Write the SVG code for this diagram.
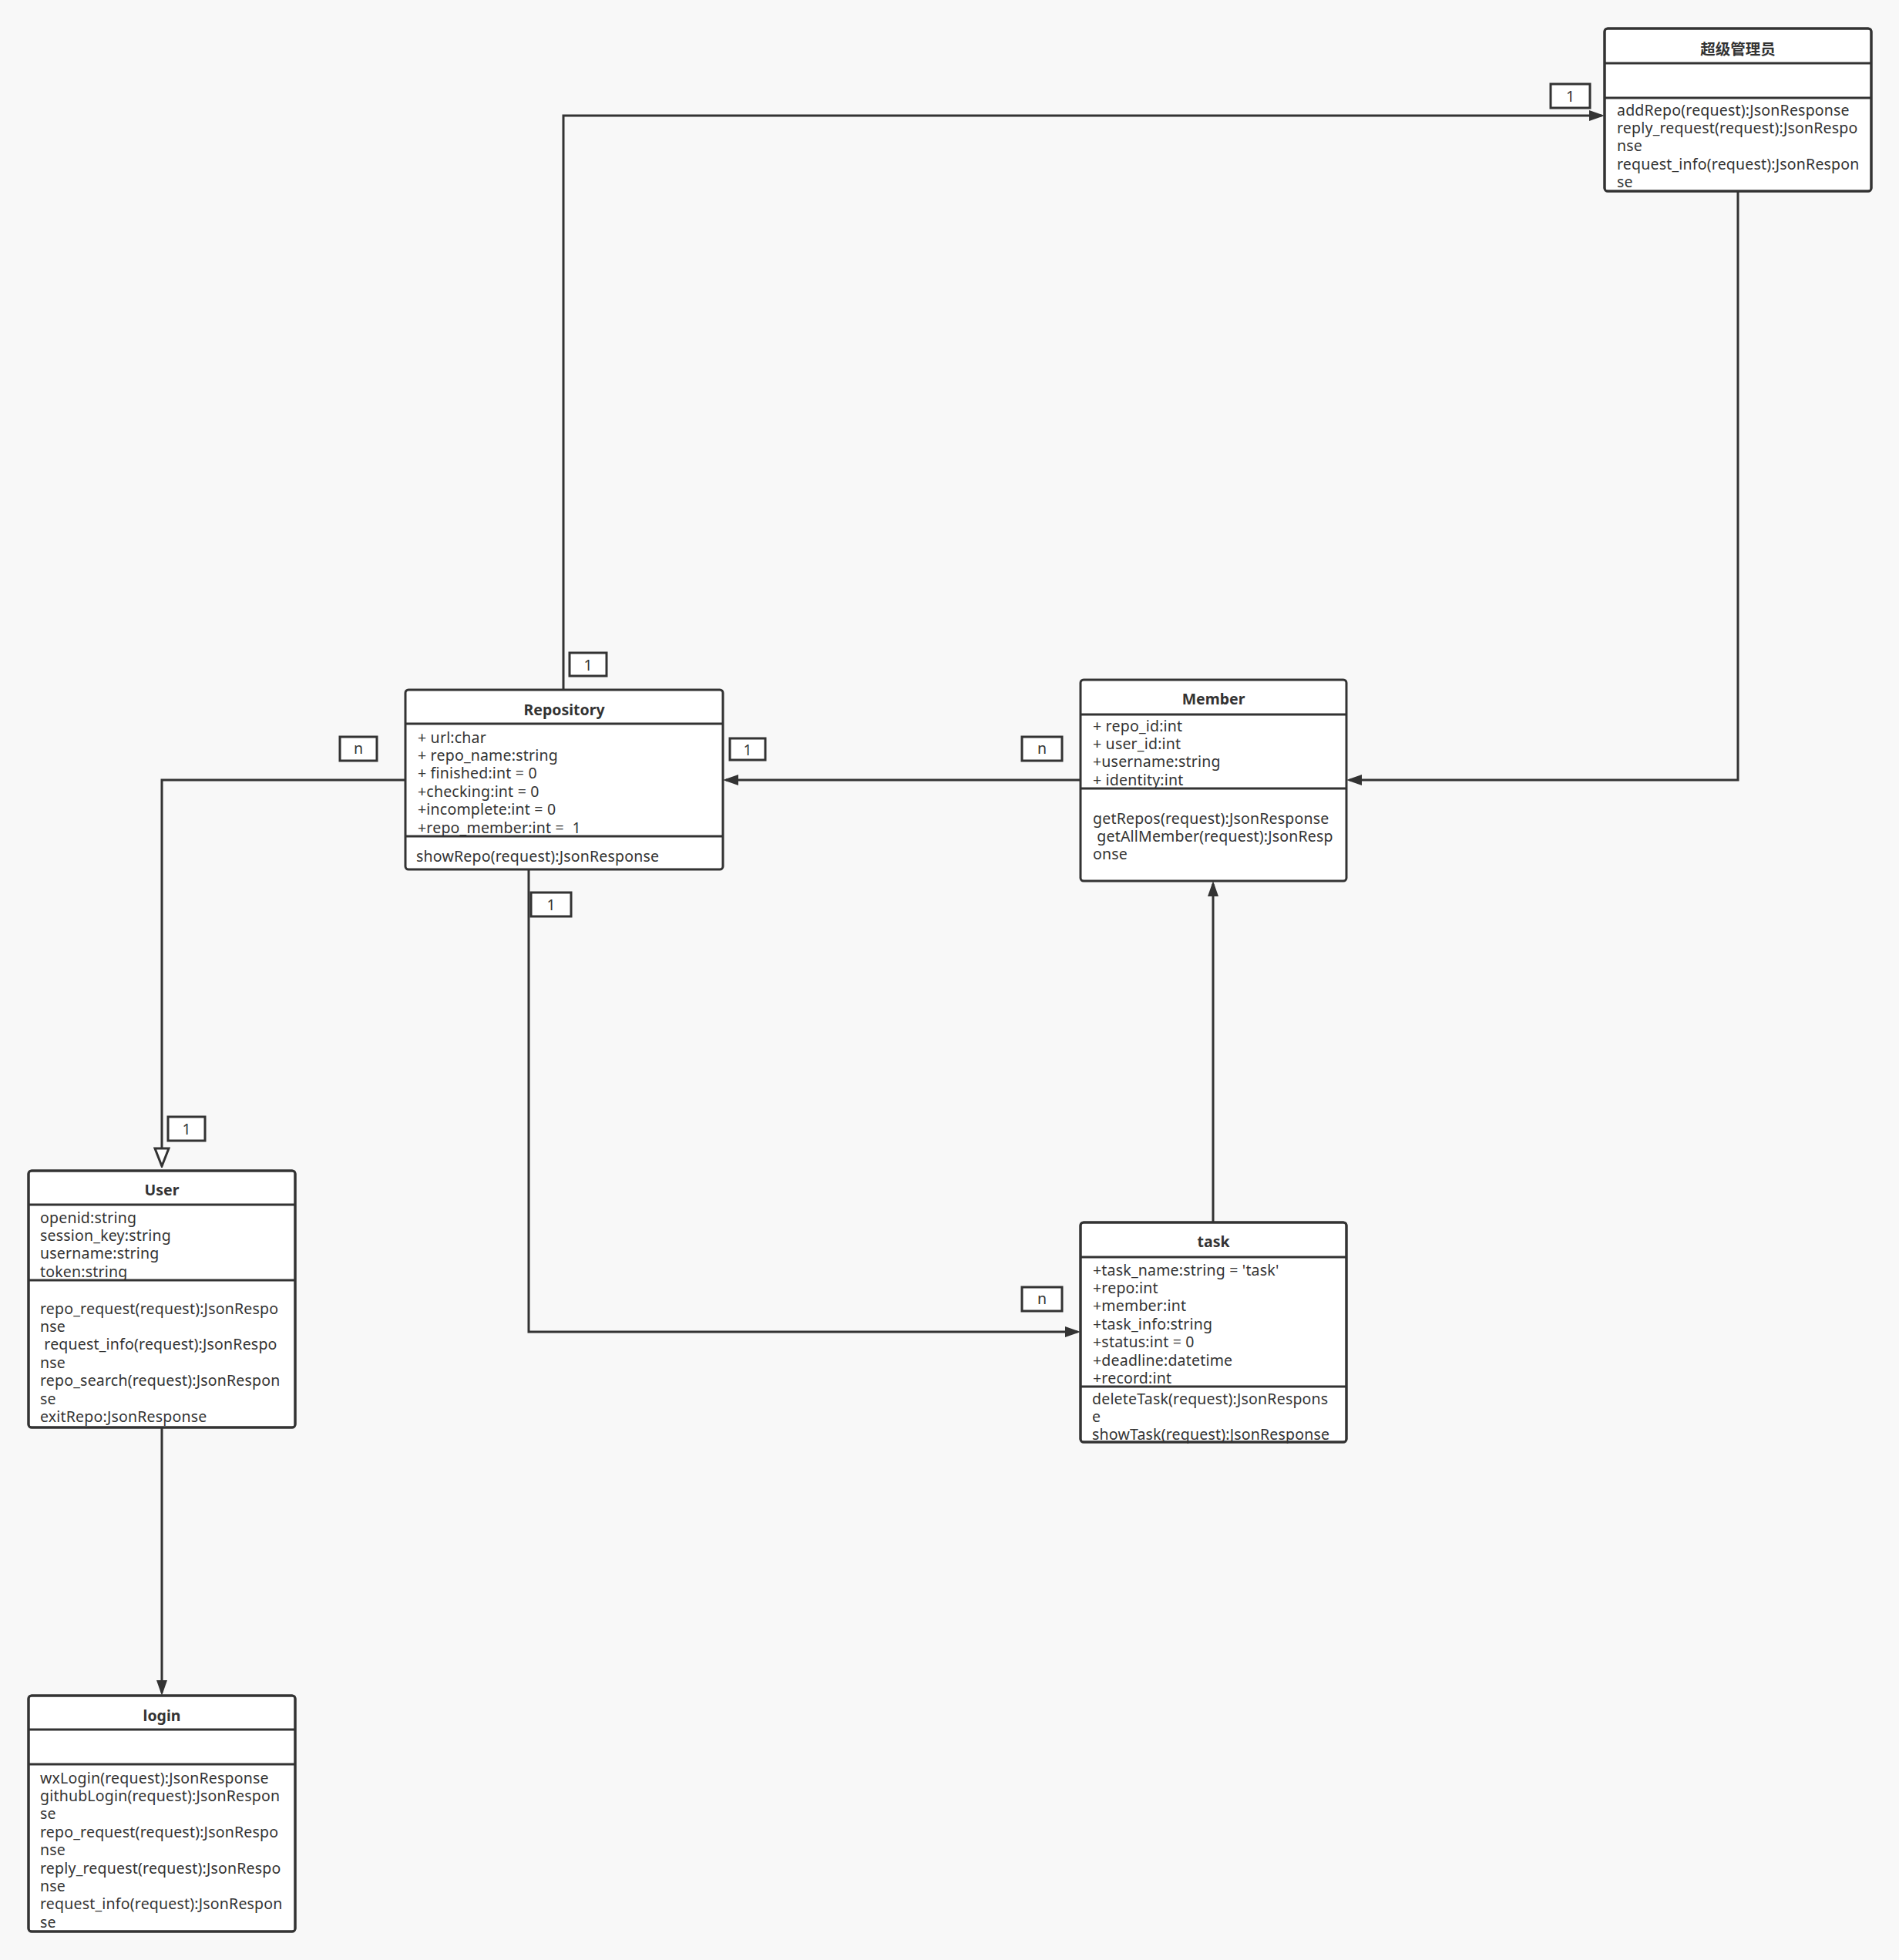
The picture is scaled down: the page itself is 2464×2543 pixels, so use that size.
<svg xmlns="http://www.w3.org/2000/svg" width="2464" height="2543" viewBox="0 0 2464 2543">
<style>
.box{fill:#ffffff;stroke:#333333;stroke-width:3}
.div{stroke:#333333;stroke-width:3;fill:none}
.t{font-family:"Noto Sans","Noto Sans CJK SC",sans-serif;font-size:19.5px;letter-spacing:0.2px;fill:#333333;white-space:pre}
.h{font-family:"Noto Sans","Noto Sans CJK SC",sans-serif;font-size:19.5px;font-weight:bold;fill:#333333;text-anchor:middle}
.lb{fill:#ffffff;stroke:#333333;stroke-width:3}
.lt{font-family:"Noto Sans",sans-serif;font-size:19.5px;fill:#333333;text-anchor:middle}
.c{fill:none;stroke:#333333;stroke-width:3}
</style>
<defs>
<marker id="fa" viewBox="0 0 20 14" refX="16" refY="7" markerWidth="20" markerHeight="14" markerUnits="userSpaceOnUse" orient="auto">
<path d="M0,0 L20,7 L0,14 z" fill="#333333"/>
</marker>
<marker id="ha" viewBox="-2 -2 27 22" refX="23" refY="9" markerWidth="27" markerHeight="22" markerUnits="userSpaceOnUse" orient="auto">
<path d="M0,0 L23,9 L0,18 z" fill="#ffffff" stroke="#333333" stroke-width="3"/>
</marker>
</defs>
<rect x="0" y="0" width="2464" height="2543" fill="#f8f8f8"/>

<g id="connectors">
<path class="c" d="M731,895 L731,150 L2078,150" marker-end="url(#fa)"/>
<path class="c" d="M2255,248 L2255,1012 L1751,1012" marker-end="url(#fa)"/>
<path class="c" d="M1402,1012 L942,1012" marker-end="url(#fa)"/>
<path class="c" d="M526,1012 L210,1012 L210,1513" marker-end="url(#ha)"/>
<path class="c" d="M686,1128 L686,1728 L1398,1728" marker-end="url(#fa)"/>
<path class="c" d="M1574,1586 L1574,1147" marker-end="url(#fa)"/>
<path class="c" d="M210,1852 L210,2196" marker-end="url(#fa)"/>
<g id="labels">
<rect class="lb" x="739" y="847" width="48" height="30"/><text class="lt" x="763" y="870">1</text>
<rect class="lb" x="2012" y="109" width="51" height="31"/><text class="lt" x="2037.5" y="132">1</text>
<rect class="lb" x="947" y="958" width="46" height="28"/><text class="lt" x="970" y="980">1</text>
<rect class="lb" x="1326" y="956" width="52" height="31"/><text class="lt" x="1352" y="978">n</text>
<rect class="lb" x="441" y="956" width="48" height="31"/><text class="lt" x="465" y="978">n</text>
<rect class="lb" x="218" y="1449" width="48" height="31"/><text class="lt" x="242" y="1472">1</text>
<rect class="lb" x="689" y="1158" width="52" height="31"/><text class="lt" x="715" y="1181">1</text>
<rect class="lb" x="1326" y="1670" width="52" height="31"/><text class="lt" x="1352" y="1692">n</text>
</g>
</g>

<g id="admin">
<rect class="box" x="2082" y="37" width="346" height="211" rx="4"/>
<text class="h" x="2255" y="71">超级管理员</text>
<text class="t" x="2098" y="149.5">addRepo(request):JsonResponse</text>
<text class="t" x="2098" y="172.9">reply_request(request):JsonRespo</text>
<text class="t" x="2098" y="196.3">nse</text>
<text class="t" x="2098" y="219.7">request_info(request):JsonRespon</text>
<text class="t" x="2098" y="243.1">se</text>
<line class="div" x1="2082" y1="82" x2="2428" y2="82"/>
<line class="div" x1="2082" y1="127" x2="2428" y2="127"/>
<rect x="2082" y="37" width="346" height="211" rx="4" fill="none" stroke="#333333" stroke-width="3"/>
</g>

<g id="repository">
<rect class="box" x="526" y="895" width="412" height="233" rx="4"/>
<text class="h" x="732" y="928">Repository</text>
<text class="t" x="542" y="963.5">+ url:char</text>
<text class="t" x="542" y="986.9">+ repo_name:string</text>
<text class="t" x="542" y="1010.3">+ finished:int = 0</text>
<text class="t" x="542" y="1033.7">+checking:int = 0</text>
<text class="t" x="542" y="1057.1">+incomplete:int = 0</text>
<text class="t" x="542" y="1080.5">+repo_member:int =  1</text>
<text class="t" x="540" y="1117.5">showRepo(request):JsonResponse</text>
<line class="div" x1="526" y1="939" x2="938" y2="939"/>
<line class="div" x1="526" y1="1085" x2="938" y2="1085"/>
</g>

<g id="member">
<rect class="box" x="1402" y="882" width="345" height="261" rx="4"/>
<text class="h" x="1574.5" y="914">Member</text>
<text class="t" x="1418" y="948.5">+ repo_id:int</text>
<text class="t" x="1418" y="971.9">+ user_id:int</text>
<text class="t" x="1418" y="995.3">+username:string</text>
<text class="t" x="1418" y="1018.7">+ identity:int</text>
<text class="t" x="1418" y="1068.5">getRepos(request):JsonResponse</text>
<text class="t" x="1418" y="1091.9"> getAllMember(request):JsonResp</text>
<text class="t" x="1418" y="1115.3">onse</text>
<line class="div" x1="1402" y1="927" x2="1747" y2="927"/>
<line class="div" x1="1402" y1="1023" x2="1747" y2="1023"/>
</g>

<g id="task">
<rect class="box" x="1402" y="1586" width="345" height="285" rx="4"/>
<text class="h" x="1574.5" y="1618">task</text>
<text class="t" x="1418" y="1654.5">+task_name:string = 'task'</text>
<text class="t" x="1418" y="1677.9">+repo:int</text>
<text class="t" x="1418" y="1701.3">+member:int</text>
<text class="t" x="1418" y="1724.7">+task_info:string</text>
<text class="t" x="1418" y="1748.1">+status:int = 0</text>
<text class="t" x="1418" y="1771.5">+deadline:datetime</text>
<text class="t" x="1418" y="1794.9">+record:int</text>
<text class="t" x="1417" y="1821.5">deleteTask(request):JsonRespons</text>
<text class="t" x="1417" y="1844.9">e</text>
<text class="t" x="1417" y="1868.3">showTask(request):JsonResponse</text>
<line class="div" x1="1402" y1="1631" x2="1747" y2="1631"/>
<line class="div" x1="1402" y1="1799" x2="1747" y2="1799"/>
<rect x="1402" y="1586" width="345" height="285" rx="4" fill="none" stroke="#333333" stroke-width="3"/>
</g>

<g id="user">
<rect class="box" x="37" y="1519" width="346" height="333" rx="4"/>
<text class="h" x="210" y="1551">User</text>
<text class="t" x="52" y="1586.5">openid:string</text>
<text class="t" x="52" y="1609.9">session_key:string</text>
<text class="t" x="52" y="1633.3">username:string</text>
<text class="t" x="52" y="1656.7">token:string</text>
<text class="t" x="52" y="1704.5">repo_request(request):JsonRespo</text>
<text class="t" x="52" y="1727.9">nse</text>
<text class="t" x="52" y="1751.3"> request_info(request):JsonRespo</text>
<text class="t" x="52" y="1774.7">nse</text>
<text class="t" x="52" y="1798.1">repo_search(request):JsonRespon</text>
<text class="t" x="52" y="1821.5">se</text>
<text class="t" x="52" y="1844.9">exitRepo:JsonResponse</text>
<line class="div" x1="37" y1="1563" x2="383" y2="1563"/>
<line class="div" x1="37" y1="1661" x2="383" y2="1661"/>
<rect x="37" y="1519" width="346" height="333" rx="4" fill="none" stroke="#333333" stroke-width="3"/>
</g>

<g id="login">
<rect class="box" x="37" y="2200" width="346" height="306" rx="4"/>
<text class="h" x="210" y="2233">login</text>
<text class="t" x="52" y="2313.5">wxLogin(request):JsonResponse</text>
<text class="t" x="52" y="2336.9">githubLogin(request):JsonRespon</text>
<text class="t" x="52" y="2360.3">se</text>
<text class="t" x="52" y="2383.7">repo_request(request):JsonRespo</text>
<text class="t" x="52" y="2407.1">nse</text>
<text class="t" x="52" y="2430.5">reply_request(request):JsonRespo</text>
<text class="t" x="52" y="2453.9">nse</text>
<text class="t" x="52" y="2477.3">request_info(request):JsonRespon</text>
<text class="t" x="52" y="2500.7">se</text>
<line class="div" x1="37" y1="2244" x2="383" y2="2244"/>
<line class="div" x1="37" y1="2289" x2="383" y2="2289"/>
<rect x="37" y="2200" width="346" height="306" rx="4" fill="none" stroke="#333333" stroke-width="3"/>
</g>
</svg>
